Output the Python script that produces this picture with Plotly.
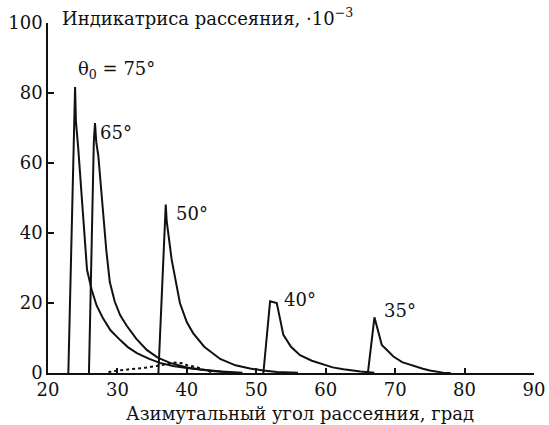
import plotly.graph_objects as go

# ---- data ----
x75 = [22.93, 23.78, 23.9, 24.02, 24.37, 25.0, 25.62, 26.3, 27.0, 27.9, 29.0, 30.4, 31.5, 32.8, 34.5, 36.1, 38.0, 40.0, 42.0, 44.0, 46.0]
y75 = [0, 72, 81.7, 72, 63.8, 46.5, 29.5, 23.7, 19.3, 15.7, 12.2, 9.4, 7.4, 5.7, 4.1, 2.9, 2.0, 1.4, 0.9, 0.5, 0.2]

x65 = [25.9, 26.6, 26.77, 26.95, 27.25, 27.8, 28.4, 28.9, 29.6, 30.4, 31.34, 32.7, 34.22, 35.8, 37.58, 40.0, 42.3, 45.0, 48.0]
y65 = [0, 66, 71.4, 66, 62, 48, 35, 26, 20.5, 16.5, 13.5, 9.8, 6.6, 4.4, 2.9, 1.6, 0.9, 0.4, 0.1]

x50 = [35.9, 36.85, 36.96, 37.1, 37.82, 39.0, 40.0, 40.9, 42.5, 44.8, 47.0, 49.1, 51.0, 53.0, 56.0]
y50 = [0, 43.3, 48.1, 43.3, 32.3, 20.0, 14.5, 11.4, 7.5, 4.0, 2.2, 1.3, 0.7, 0.3, 0.05]

x40 = [51.02, 51.99, 52.95, 53.9, 55.0, 56.3, 58.0, 59.7, 61.0, 62.55, 65.0, 67.0]
y40 = [0, 20.5, 20.0, 10.9, 7.5, 5.1, 3.5, 2.5, 1.6, 1.05, 0.4, 0.1]

x35 = [66.07, 67.02, 68.08, 69.75, 71.0, 72.6, 74.0, 75.0, 76.9, 78.0]
y35 = [0, 15.9, 8.0, 4.7, 3.1, 2.0, 1.2, 0.7, 0.1, 0]

xdot = [28.7, 29.2, 31.0, 34.0, 37.1, 38.3, 39.3, 40.2, 41.2, 41.9, 42.6, 43.5]
ydot = [0.2, 0.5, 0.9, 1.5, 2.5, 3.0, 2.8, 2.1, 1.8, 1.3, 0.9, 0.3]

x_ticks = [20, 30, 40, 50, 60, 70, 80, 90]
y_ticks = [0, 20, 40, 60, 80, 100]

labels = ["θ<sub>0</sub> = 75°", "65°", "50°", "40°", "35°"]
label_x = [29.8, 29.85, 40.75, 56.3, 70.7]
label_y = [86.7, 68.6, 45.5, 20.9, 18.0]

FONT = "DejaVu Serif, Liberation Serif, serif"
INK = "#111111"
FS = 18

fig = go.Figure()
for xs, ys in [(x75, y75), (x65, y65), (x50, y50), (x40, y40), (x35, y35)]:
    fig.add_trace(go.Scatter(x=xs, y=ys, mode="lines",
                             line=dict(color=INK, width=2), showlegend=False,
                             hoverinfo="skip"))
fig.add_trace(go.Scatter(x=xdot, y=ydot, mode="lines",
                         line=dict(color=INK, width=2, dash="dot"),
                         showlegend=False, hoverinfo="skip"))

for t, lx, ly in zip(labels, label_x, label_y):
    fig.add_annotation(x=lx, y=ly, xref="x", yref="y", text=t, showarrow=False,
                       font=dict(family=FONT, size=FS, color=INK))

fig.add_annotation(x=0.025, y=1.017, xref="paper", yref="paper", xanchor="left",
                   yanchor="middle", showarrow=False,
                   text="Индикатриса рассеяния, ·10<sup>−3</sup>",
                   font=dict(family=FONT, size=FS, color=INK))
fig.add_annotation(x=0.518, y=-0.115, xref="paper", yref="paper", xanchor="center",
                   yanchor="middle", showarrow=False,
                   text="Азимутальный угол рассеяния, град",
                   font=dict(family=FONT, size=FS, color=INK))

fig.update_layout(
    width=549, height=425,
    margin=dict(l=48, r=15, t=23, b=52, autoexpand=False),
    paper_bgcolor="white", plot_bgcolor="white",
    font=dict(family=FONT, size=FS, color=INK),
    xaxis=dict(range=[20, 90], tickvals=x_ticks, ticks="inside", ticklen=5,
               tickcolor=INK, tickwidth=1.5, showline=True, linecolor=INK,
               linewidth=1.5, showgrid=False, zeroline=False, automargin=False,
               tickfont=dict(family=FONT, size=FS, color=INK)),
    yaxis=dict(range=[0, 100], tickvals=y_ticks, ticks="inside", ticklen=6,
               tickcolor=INK, tickwidth=1.5, showline=True, linecolor=INK,
               linewidth=1.5, showgrid=False, zeroline=False, automargin=False,
               tickfont=dict(family=FONT, size=FS, color=INK)),
)

fig.write_html("out.html")
